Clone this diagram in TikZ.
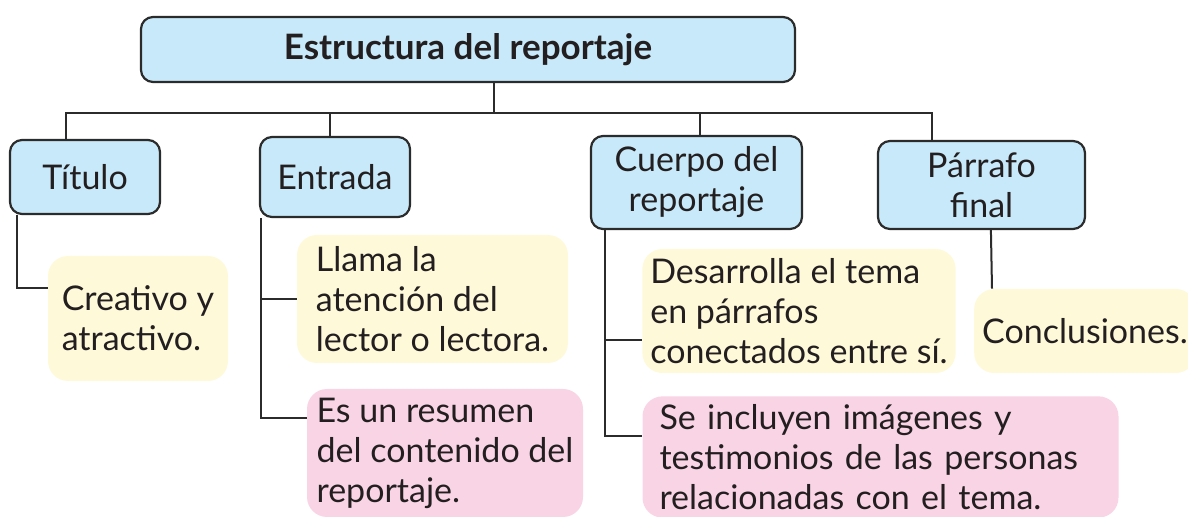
\documentclass[tikz,border=0pt]{standalone}
\usepackage{fontspec}
\setmainfont{Lato}
\usetikzlibrary{positioning}
\definecolor{inkC}{HTML}{231F20}
\definecolor{lineC}{HTML}{2B2B2B}
\definecolor{blueBg}{HTML}{C8E9F9}
\definecolor{yellowBg}{HTML}{FEF9D9}
\definecolor{pinkBg}{HTML}{F9D4E5}
\tikzset{
  link/.style={draw=lineC, line width=1pt},
  head/.style={draw=lineC, fill=blueBg, line width=1.1pt, rounded corners=6pt,
    align=center, text=inkC, inner sep=2pt},
  topic/.style={head, font=\fontsize{17}{20}\selectfont},
  note/.style={fill=#1, rounded corners=10pt, align=left, text=inkC,
    inner sep=4pt, font=\fontsize{17}{20}\selectfont}
}

\begin{document}
\begin{tikzpicture}[x=0.5pt,y=-0.5pt]
  \useasboundingbox (0,0) rectangle (1188,517);
  % root and main parts
  \node[head, font=\fontsize{17.5}{20}\selectfont\bfseries, minimum width=327pt, minimum height=32.5pt]
    (title) at (468,49.5) {Estructura del reportaje};
  \node[topic, minimum width=75pt, minimum height=37pt] (tit) at (85,177) {Título};
  \node[topic, minimum width=75pt, minimum height=40pt] (ent) at (335,177) {Entrada};
  \node[topic, minimum width=105.5pt, minimum height=46.5pt] (cue) at (696.5,182.5) {Cuerpo del\\reportaje};
  \node[topic, minimum width=103.5pt, minimum height=44pt] (par) at (981.5,185) {Párrafo\\final};
  \coordinate (hub) at (494,113);
  % notes
  \node[note=yellowBg, minimum width=90pt, minimum height=62.5pt] (cre) at (138,318.5) {Creativo y\\atractivo.};
  \node[note=yellowBg, minimum width=135.5pt, minimum height=64pt] (ll) at (432.5,299) {Llama la\\atención del\\lector o lectora.};
  \node[note=pinkBg, minimum width=138pt, minimum height=64pt] (res) at (445,453) {Es un resumen\\del contenido del\\reportaje.};
  \node[note=yellowBg, minimum width=156pt, minimum height=62pt] (des) at (799,311) {Desarrolla el tema\\en párrafos\\conectados entre sí.};
  \node[note=pinkBg, text width=221pt, inner xsep=8.5pt, minimum height=60pt] (img) at (880.5,457) {Se incluyen imágenes y\\testimonios de las personas\\relacionadas con el tema.};
  \node[note=yellowBg, minimum width=110pt, minimum height=42pt, align=center] (con) at (1085,331) {Conclusiones.};
  % tree lines
  \draw[link] ([xshift=13pt]title.south) -- (hub);
  \draw[link] ([xshift=-9.5pt]tit.north) |- (hub);
  \draw[link] ([xshift=-2.5pt]ent.north) |- (hub);
  \draw[link] ([xshift=1.75pt]cue.north) |- (hub);
  \draw[link] ([xshift=-24.75pt]par.north) |- (hub);
  \draw[link] ([xshift=4pt]tit.south west) |- ([yshift=15.25pt]cre.west);
  \draw[link] ([xshift=1pt]ent.south west) |- (ll.west);
  \draw[link] ([xshift=1pt]ent.south west) |- ([yshift=17.5pt]res.west);
  \draw[link] ([xshift=7.5pt]cue.south west) |- ([yshift=-14.5pt]des.west);
  \draw[link] ([xshift=7.5pt]cue.south west) |- ([yshift=10.5pt]img.west);
  \draw[link] ([xshift=57pt]par.south west) -- ([xshift=-46.5pt]con.north);
\end{tikzpicture}
\end{document}
